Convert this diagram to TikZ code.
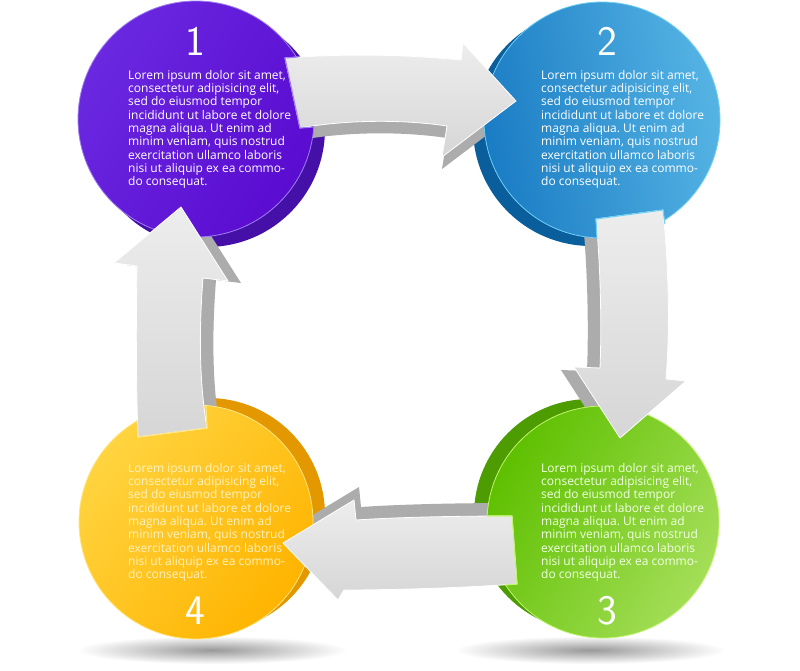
\documentclass[tikz,border=0pt]{standalone}
\usepackage{fontspec}
\setmainfont{Open Sans}
\frenchspacing
\definecolor{pface}{HTML}{6A28E0}
\definecolor{pface2}{HTML}{5A0CD0}
\definecolor{pext}{HTML}{4510A8}
\definecolor{prim}{HTML}{A080F0}
\definecolor{bface}{HTML}{1A7CC4}
\definecolor{bface2}{HTML}{56B4E4}
\definecolor{bext}{HTML}{0B5E9C}
\definecolor{brim}{HTML}{70D0F4}
\definecolor{gface}{HTML}{5EC000}
\definecolor{gface2}{HTML}{A4DE58}
\definecolor{gext}{HTML}{4C9C02}
\definecolor{grim}{HTML}{C4F470}
\definecolor{yface}{HTML}{FFB400}
\definecolor{yface2}{HTML}{FFD440}
\definecolor{yext}{HTML}{E49800}
\definecolor{yrim}{HTML}{FFE684}
\definecolor{aface}{HTML}{EDEDED}
\definecolor{aface2}{HTML}{D6D6D6}
\definecolor{aext}{HTML}{ACACAC}
\definecolor{ytext}{HTML}{FFF2C0}
\definecolor{gtext}{HTML}{F2FFE4}
\newcommand{\loremtext}{Lorem ipsum dolor sit amet,\\consectetur adipisicing elit,\\sed do eiusmod tempor\\incididunt ut labore et dolore\\magna aliqua. Ut enim ad\\minim veniam, quis nostrud\\exercitation ullamco laboris\\nisi ut aliquip ex ea commo-\\do consequat.}
\begin{document}
\begin{tikzpicture}[x=1pt,y=-1pt,
  bodytext/.style={anchor=north west,inner sep=0pt,align=left,font=\fontsize{12}{13.3}\selectfont\frenchspacing},
  numtext/.style={inner sep=0pt,font=\sffamily\fontsize{42}{42}\selectfont,text=white},
  arrowface/.style={top color=aface,bottom color=aface2,draw=white,line width=0.8pt,line join=round},
  arrowext/.style={fill=aext},
  notchline/.style={line width=1.1pt,line join=round}]
\useasboundingbox (0,0) rectangle (800,671);
\fill[white] (0,0) rectangle (800,671);
% shadows
\shade[inner color=black!40,outer color=white] (212,650) ellipse (135pt and 14pt);
\shade[inner color=black!40,outer color=white] (590,650) ellipse (135pt and 14pt);
% circle extrusions
\fill[pext] (207,129) circle (118pt);
\fill[bext] (591,128) circle (118pt);
\fill[gext] (590,515) circle (116pt);
\fill[yext] (208,515) circle (117pt);
% arrow extrusions
\fill[arrowext,shift={(0,12)}] (285,58) .. controls (350,53) and (410,55) .. (461,60) -- (463,43) -- (516,101) -- (442,157) -- (447,126) .. controls (400,119) and (345,120) .. (300,128) -- cycle;
\fill[arrowext,shift={(-13,3)}] (596,219) -- (663,210) .. controls (669,270) and (670,330) .. (666,379) -- (686,381) -- (620,438) -- (574,367) -- (600,368) .. controls (602,320) and (600,260) .. (596,219) -- cycle;
\fill[arrowext,shift={(5,-13)}] (512,516) -- (517,584) .. controls (460,588) and (390,590) .. (344,590) -- (338,600) -- (283,543) -- (354,500) -- (356,520) .. controls (400,517) and (460,516) .. (512,516) -- cycle;
\fill[arrowext,shift={(13,2)}] (181,207) -- (228,281) -- (203,278) .. controls (199,330) and (199,380) .. (207,428) -- (138,437) .. controls (136,380) and (136,320) .. (137,266) -- (114,263) -- cycle;
% circle faces
\shade[left color=pface,right color=pface2,shading angle=60,draw=prim,line width=0.8pt] (196,119) circle (118pt);
\shade[left color=bface,right color=bface2,shading angle=100,draw=brim,line width=0.8pt] (602,120) circle (118pt);
\shade[left color=gface,right color=gface2,shading angle=60,draw=grim,line width=0.8pt] (603,522) circle (116pt);
\shade[left color=yface2,right color=yface,shading angle=50,draw=yrim,line width=0.8pt] (196,522) circle (117pt);
% arrow faces
\shade[arrowface] (285,58) .. controls (350,53) and (410,55) .. (461,60) -- (463,43) -- (516,101) -- (442,157) -- (447,126) .. controls (400,119) and (345,120) .. (300,128) -- cycle;
\shade[arrowface] (596,219) -- (663,210) .. controls (669,270) and (670,330) .. (666,379) -- (686,381) -- (620,438) -- (574,367) -- (600,368) .. controls (602,320) and (600,260) .. (596,219) -- cycle;
\shade[arrowface] (512,516) -- (517,584) .. controls (460,588) and (390,590) .. (344,590) -- (338,600) -- (283,543) -- (354,500) -- (356,520) .. controls (400,517) and (460,516) .. (512,516) -- cycle;
\shade[arrowface] (181,207) -- (228,281) -- (203,278) .. controls (199,330) and (199,380) .. (207,428) -- (138,437) .. controls (136,380) and (136,320) .. (137,266) -- (114,263) -- cycle;
% notch outlines
\draw[notchline,draw=prim] (298,57) -- (285,58) -- (300,128) -- (314,127);
\draw[notchline,draw=brim] (597,239) -- (596,219) -- (663,210) -- (665,224);
\draw[notchline,draw=grim] (487,516) -- (512,516) -- (517,584) -- (505,585);
\draw[notchline,draw=yrim] (137,420) -- (138,437) -- (207,428) -- (206,406);
% numbers
\node[numtext] (n1) at (195,41) {1};
\node[numtext] (n2) at (607,41) {2};
\node[numtext] (n3) at (607,611) {3};
\node[numtext] (n4) at (195,611) {4};
% texts
\node[bodytext,text=white] (t1) at (128,70) {\loremtext};
\node[bodytext,text=white] (t2) at (541,70) {\loremtext};
\node[bodytext,text=gtext] (t3) at (541,463) {\loremtext};
\node[bodytext,text=ytext] (t4) at (128,463) {\loremtext};
\end{tikzpicture}
\end{document}
